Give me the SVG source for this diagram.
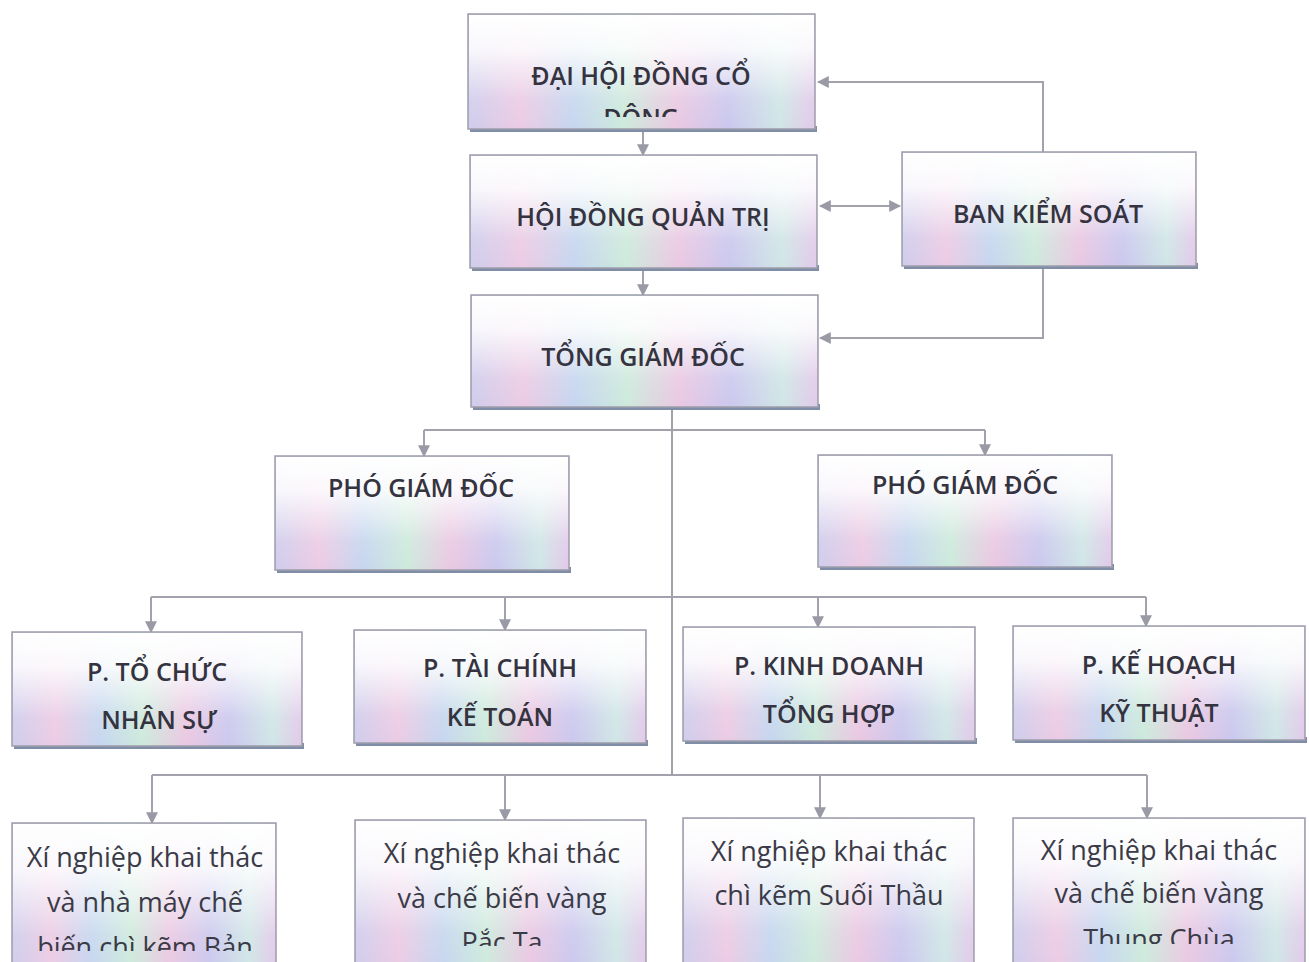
<svg xmlns="http://www.w3.org/2000/svg" width="1309" height="962" viewBox="0 0 1309 962">
<style>
.bx{fill:url(#rainbow);stroke:#9d9daa;stroke-width:1.5}
.wash{fill:url(#fade)}
.sh{fill:#7f8ea6}
.t{font-family:"Open Sans","Noto Sans",sans-serif;font-size:25px;font-weight:600;fill:#34333f;text-anchor:middle}
.l{font-family:"Open Sans","Noto Sans",sans-serif;font-size:27px;font-weight:400;fill:#3b3a47;text-anchor:middle}
.c{fill:none;stroke:#a2a2ac;stroke-width:2}
</style>
<defs>
<linearGradient id="rainbow" x1="0" y1="0" x2="1" y2="0">
<stop offset="0" stop-color="#cfcdec"/>
<stop offset="0.15" stop-color="#eccbe4"/>
<stop offset="0.3" stop-color="#c6d6ef"/>
<stop offset="0.45" stop-color="#cdeadc"/>
<stop offset="0.6" stop-color="#eac8e2"/>
<stop offset="0.75" stop-color="#cbc8ee"/>
<stop offset="0.9" stop-color="#d0e6e6"/>
<stop offset="1" stop-color="#e2c9ea"/>
</linearGradient>
<linearGradient id="fade" x1="0" y1="0" x2="0" y2="1">
<stop offset="0" stop-color="#ffffff" stop-opacity="1"/>
<stop offset="0.3" stop-color="#ffffff" stop-opacity="0.85"/>
<stop offset="0.75" stop-color="#ffffff" stop-opacity="0.1"/>
<stop offset="1" stop-color="#ffffff" stop-opacity="0"/>
</linearGradient>
<marker id="ah2" viewBox="0 0 10 10" refX="9" refY="5" markerWidth="12" markerHeight="12" orient="auto-start-reverse" markerUnits="userSpaceOnUse">
<path d="M0,0 L10,5 L0,10 z" fill="#9a9aa6"/>
</marker>
<clipPath id="c1"><rect x="468" y="14" width="347" height="103"/></clipPath>
<clipPath id="cA"><rect x="12" y="823" width="264" height="128"/></clipPath>
<clipPath id="cB"><rect x="355" y="820" width="291" height="126"/></clipPath>
<clipPath id="cD"><rect x="1013" y="818" width="292" height="126"/></clipPath>
</defs>
<rect width="1309" height="962" fill="#ffffff"/>

<g id="connectors">
<path class="c" marker-end="url(#ah2)" d="M643,132 V155"/>
<path class="c" marker-end="url(#ah2)" d="M643,271 V295"/>
<path class="c" marker-start="url(#ah2)" marker-end="url(#ah2)" d="M820,206 H900"/>
<path class="c" marker-end="url(#ah2)" d="M1043,152 V82 H818"/>
<path class="c" marker-end="url(#ah2)" d="M1043,269 V338 H820"/>
<path class="c" d="M672,410 V775"/>
<path class="c" d="M424,430 H985"/>
<path class="c" marker-end="url(#ah2)" d="M424,430 V456"/>
<path class="c" marker-end="url(#ah2)" d="M985,430 V455"/>
<path class="c" d="M151,597 H1146"/>
<path class="c" marker-end="url(#ah2)" d="M151,597 V632"/>
<path class="c" marker-end="url(#ah2)" d="M505,597 V630"/>
<path class="c" marker-end="url(#ah2)" d="M818,597 V627"/>
<path class="c" marker-end="url(#ah2)" d="M1146,597 V626"/>
<path class="c" d="M152,775 H1147"/>
<path class="c" marker-end="url(#ah2)" d="M152,775 V823"/>
<path class="c" marker-end="url(#ah2)" d="M505,775 V820"/>
<path class="c" marker-end="url(#ah2)" d="M820,775 V818"/>
<path class="c" marker-end="url(#ah2)" d="M1147,775 V818"/>
</g>

<g id="dai-hoi-dong-co-dong">
<rect class="sh" x="470" y="126" width="347" height="6"/>
<rect class="bx" x="468" y="14" width="347" height="115"/>
<rect class="wash" x="469" y="15" width="345" height="113"/>
<g clip-path="url(#c1)">
<text class="t" x="641" y="85">ĐẠI HỘI ĐỒNG CỔ</text>
<text class="t" x="641" y="127">ĐÔNG</text>
</g>
</g>

<g id="hoi-dong-quan-tri">
<rect class="sh" x="472" y="265" width="347" height="6"/>
<rect class="bx" x="470" y="155" width="347" height="113"/>
<rect class="wash" x="471" y="156" width="345" height="111"/>
<text class="t" x="643" y="226">HỘI ĐỒNG QUẢN TRỊ</text>
</g>

<g id="ban-kiem-soat">
<rect class="sh" x="904" y="263" width="294" height="6"/>
<rect class="bx" x="902" y="152" width="294" height="114"/>
<rect class="wash" x="903" y="153" width="292" height="112"/>
<text class="t" x="1048" y="223">BAN KIỂM SOÁT</text>
</g>

<g id="tong-giam-doc">
<rect class="sh" x="473" y="404" width="347" height="6"/>
<rect class="bx" x="471" y="295" width="347" height="112"/>
<rect class="wash" x="472" y="296" width="345" height="110"/>
<text class="t" x="643" y="366">TỔNG GIÁM ĐỐC</text>
</g>

<g id="pho-giam-doc-1">
<rect class="sh" x="277" y="567" width="294" height="6"/>
<rect class="bx" x="275" y="456" width="294" height="114"/>
<rect class="wash" x="276" y="457" width="292" height="112"/>
<text class="t" x="421" y="497">PHÓ GIÁM ĐỐC</text>
</g>

<g id="pho-giam-doc-2">
<rect class="sh" x="820" y="564" width="294" height="6"/>
<rect class="bx" x="818" y="455" width="294" height="112"/>
<rect class="wash" x="819" y="456" width="292" height="110"/>
<text class="t" x="965" y="494">PHÓ GIÁM ĐỐC</text>
</g>

<g id="p-to-chuc-nhan-su">
<rect class="sh" x="14" y="743" width="290" height="6"/>
<rect class="bx" x="12" y="632" width="290" height="114"/>
<rect class="wash" x="13" y="633" width="288" height="112"/>
<text class="t" x="157" y="681">P. TỔ CHỨC</text>
<text class="t" x="159" y="729">NHÂN SỰ</text>
</g>

<g id="p-tai-chinh-ke-toan">
<rect class="sh" x="356" y="740" width="292" height="6"/>
<rect class="bx" x="354" y="630" width="292" height="113"/>
<rect class="wash" x="355" y="631" width="290" height="111"/>
<text class="t" x="500" y="677">P. TÀI CHÍNH</text>
<text class="t" x="500" y="726">KẾ TOÁN</text>
</g>

<g id="p-kinh-doanh-tong-hop">
<rect class="sh" x="685" y="738" width="292" height="6"/>
<rect class="bx" x="683" y="627" width="292" height="114"/>
<rect class="wash" x="684" y="628" width="290" height="112"/>
<text class="t" x="829" y="675">P. KINH DOANH</text>
<text class="t" x="829" y="723">TỔNG HỢP</text>
</g>

<g id="p-ke-hoach-ky-thuat">
<rect class="sh" x="1015" y="737" width="292" height="6"/>
<rect class="bx" x="1013" y="626" width="292" height="114"/>
<rect class="wash" x="1014" y="627" width="290" height="112"/>
<text class="t" x="1159" y="674">P. KẾ HOẠCH</text>
<text class="t" x="1159" y="722">KỸ THUẬT</text>
</g>

<g id="xn-ban-thi">
<rect class="bx" x="12" y="823" width="264" height="150"/>
<rect class="wash" x="13" y="824" width="262" height="148"/>
<g clip-path="url(#cA)">
<text class="l" x="145" y="867">Xí nghiệp khai thác</text>
<text class="l" x="145" y="912">và nhà máy chế</text>
<text class="l" x="145" y="957">biến chì kẽm Bản</text>
</g>
</g>

<g id="xn-pac-ta">
<rect class="bx" x="355" y="820" width="291" height="150"/>
<rect class="wash" x="356" y="821" width="289" height="148"/>
<g clip-path="url(#cB)">
<text class="l" x="502" y="863">Xí nghiệp khai thác</text>
<text class="l" x="502" y="908">và chế biến vàng</text>
<text class="l" x="502" y="952">Pắc Ta</text>
</g>
</g>

<g id="xn-suoi-thau">
<rect class="bx" x="683" y="818" width="291" height="150"/>
<rect class="wash" x="684" y="819" width="289" height="148"/>
<text class="l" x="829" y="861">Xí nghiệp khai thác</text>
<text class="l" x="829" y="905">chì kẽm Suối Thầu</text>
</g>

<g id="xn-thung-chua">
<rect class="bx" x="1013" y="818" width="292" height="150"/>
<rect class="wash" x="1014" y="819" width="290" height="148"/>
<g clip-path="url(#cD)">
<text class="l" x="1159" y="860">Xí nghiệp khai thác</text>
<text class="l" x="1159" y="903">và chế biến vàng</text>
<text class="l" x="1159" y="949">Thung Chùa</text>
</g>
</g>
</svg>
